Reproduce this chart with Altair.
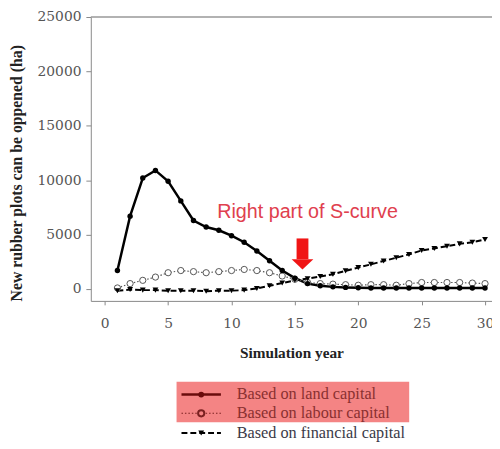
import altair as alt
import pandas as pd

years = list(range(1, 31))
land = [1700, 6700, 10200, 10900, 9900, 8100, 6300, 5700, 5400, 4900,
        4300, 3500, 2600, 1700, 1000, 500, 300, 200, 150, 120,
        100, 100, 100, 100, 100, 100, 100, 100, 100, 100]
labour = [100, 500, 800, 1100, 1500, 1700, 1600, 1500, 1600, 1700,
          1800, 1700, 1500, 1200, 900, 600, 500, 450, 400, 350,
          400, 400, 350, 500, 600, 600, 600, 600, 550, 500]
financial = [-150, -50, -100, -100, -150, -150, -150, -200, -150, -150,
             -100, 50, 300, 550, 800, 950, 1150, 1360, 1670, 1970,
             2270, 2580, 2880, 3180, 3550, 3730, 3940, 4150, 4300, 4550]
series_names = ["Based on land capital", "Based on labour capital", "Based on financial capital"]
x_ticks = [0, 5, 10, 15, 20, 25, 30]
y_ticks = [0, 5000, 10000, 15000, 20000, 25000]
annotation_text = "Right part of S-curve"
arrow_x = 15.6
arrow_top, arrow_neck, arrow_head = 4650, 2750, 2300

rows = []
for name, vals in zip(series_names, [land, labour, financial]):
    for yr, v in zip(years, vals):
        rows.append({"year": yr, "value": v, "series": name})
df = pd.DataFrame(rows)

W, H = 407, 288
xs = alt.Scale(domain=[-1.1, 30.55], nice=False, zero=False)
ys = alt.Scale(domain=[-1090, 25000], nice=False, zero=False)
serif = "Liberation Serif"
label_font = "DejaVu Serif"

xenc = alt.X("year:Q", scale=xs, axis=alt.Axis(
    values=x_ticks, format="d", title="Simulation year", grid=False,
    tickSize=4, labelPadding=12, labelFont=label_font, labelFontSize=14, labelColor="#555",
    titleY=52, titleBaseline="middle"))
yenc = alt.Y("value:Q", scale=ys, axis=alt.Axis(
    values=y_ticks, format="d", title="New rubber plots can be oppened (ha)", grid=False,
    tickSize=5, labelPadding=5, titleFontSize=16,
    labelFont=label_font, labelFontSize=14, labelColor="#555",
    titleX=-75, titleY=158, titleAngle=-90, titleAlign="center",
    titleBaseline="middle"))

base = alt.Chart(df)

land_line = base.transform_filter(alt.datum.series == series_names[0]).mark_line(
    color="black", strokeWidth=2.5).encode(x=xenc, y=yenc)
land_pts = base.transform_filter(alt.datum.series == series_names[0]).mark_point(
    shape="circle", filled=True, color="black", size=30, opacity=1).encode(x="year:Q", y="value:Q")

lab_line = base.transform_filter(alt.datum.series == series_names[1]).mark_line(
    color="#555", strokeWidth=1.2, strokeDash=[1.5, 2]).encode(x="year:Q", y="value:Q")
lab_pts = base.transform_filter(alt.datum.series == series_names[1]).mark_point(
    shape="circle", filled=True, fill="white", stroke="#555", strokeWidth=1, size=40,
    opacity=1).encode(x="year:Q", y="value:Q")

fin_line = base.transform_filter(alt.datum.series == series_names[2]).mark_line(
    color="black", strokeWidth=2, strokeDash=[6, 3]).encode(x="year:Q", y="value:Q")
fin_pts = base.transform_filter(alt.datum.series == series_names[2]).mark_point(
    shape="triangle-down", filled=True, color="black", size=35, opacity=1).encode(x="year:Q", y="value:Q")

top_rule = alt.Chart(pd.DataFrame({"v": [25000]})).mark_rule(color="#999", strokeWidth=1.5).encode(
    y=alt.Y("v:Q", scale=ys), x=alt.value(0), x2=alt.value(W))

ann = alt.Chart(pd.DataFrame({"x": [16.0], "y": [7050], "t": [annotation_text]})).mark_text(
    font="Liberation Sans", fontSize=20, color="#e0404e", align="center", baseline="middle").encode(
    x=alt.X("x:Q", scale=xs), y=alt.Y("y:Q", scale=ys), text="t:N")

shaft = alt.Chart(pd.DataFrame({"x": [arrow_x], "y": [arrow_top], "y2": [arrow_neck]})).mark_rule(
    color="#f01515", strokeWidth=12).encode(x=alt.X("x:Q", scale=xs), y=alt.Y("y:Q", scale=ys), y2="y2:Q")
head = alt.Chart(pd.DataFrame({"x": [arrow_x], "y": [arrow_head]})).mark_point(
    shape="M-1,-0.45L1,-0.45L0,0.5Z", filled=True, color="#f01515", size=484, opacity=1).encode(
    x=alt.X("x:Q", scale=xs), y=alt.Y("y:Q", scale=ys))

# legend (drawn manually)
box = alt.Chart(pd.DataFrame({"a": [0]})).mark_rect(color="#f48484").encode(
    x=alt.value(87), x2=alt.value(323), y=alt.value(370), y2=alt.value(411))
leg_layers = [box]
row_y = [383, 402, 422]
sym_col = ["#6a0c0c", "#7a2020", "black"]
txt_col = ["#8a3030", "#8a3030", "#3a3a48"]
dashes = [[1, 0], [1.5, 2], [6, 3]]
widths = [2.5, 1.2, 2]
shapes = ["circle", "circle", "triangle-down"]
for i, name in enumerate(series_names):
    d = pd.DataFrame({"t": [name]})
    leg_layers.append(alt.Chart(d).mark_rule(color=sym_col[i], strokeWidth=widths[i],
                                            strokeDash=dashes[i]).encode(
        x=alt.value(92), x2=alt.value(132), y=alt.value(row_y[i])))
    if i == 1:
        pm = alt.Chart(d).mark_point(shape="circle", filled=True, fill="#f48484",
                                     stroke=sym_col[i], size=40, opacity=1)
    else:
        pm = alt.Chart(d).mark_point(shape=shapes[i], filled=True, color=sym_col[i],
                                     size=35, opacity=1)
    leg_layers.append(pm.encode(x=alt.value(112), y=alt.value(row_y[i])))
    leg_layers.append(alt.Chart(d).mark_text(font=serif, fontSize=16.5, color=txt_col[i],
                                             align="left", baseline="middle").encode(
        x=alt.value(148), y=alt.value(row_y[i]), text="t:N"))

chart = alt.layer(land_line, top_rule, lab_line, fin_line, lab_pts, fin_pts, land_pts,
                  ann, shaft, head, *leg_layers).properties(
    width=W, height=H,
    autosize=alt.AutoSizeParams(type="none"),
    padding={"left": 84, "top": 6, "right": 0, "bottom": 140},
).configure(
    background="white",
    view={"stroke": None},
    axis={"labelFont": label_font, "labelFontSize": 14, "labelColor": "#555",
          "titleFont": serif, "titleFontSize": 15.5, "titleFontWeight": "bold",
          "titleColor": "#222", "domainColor": "#888", "tickColor": "#888"},
)

chart.save("out.html", embed_options={"renderer": "svg", "actions": False})
